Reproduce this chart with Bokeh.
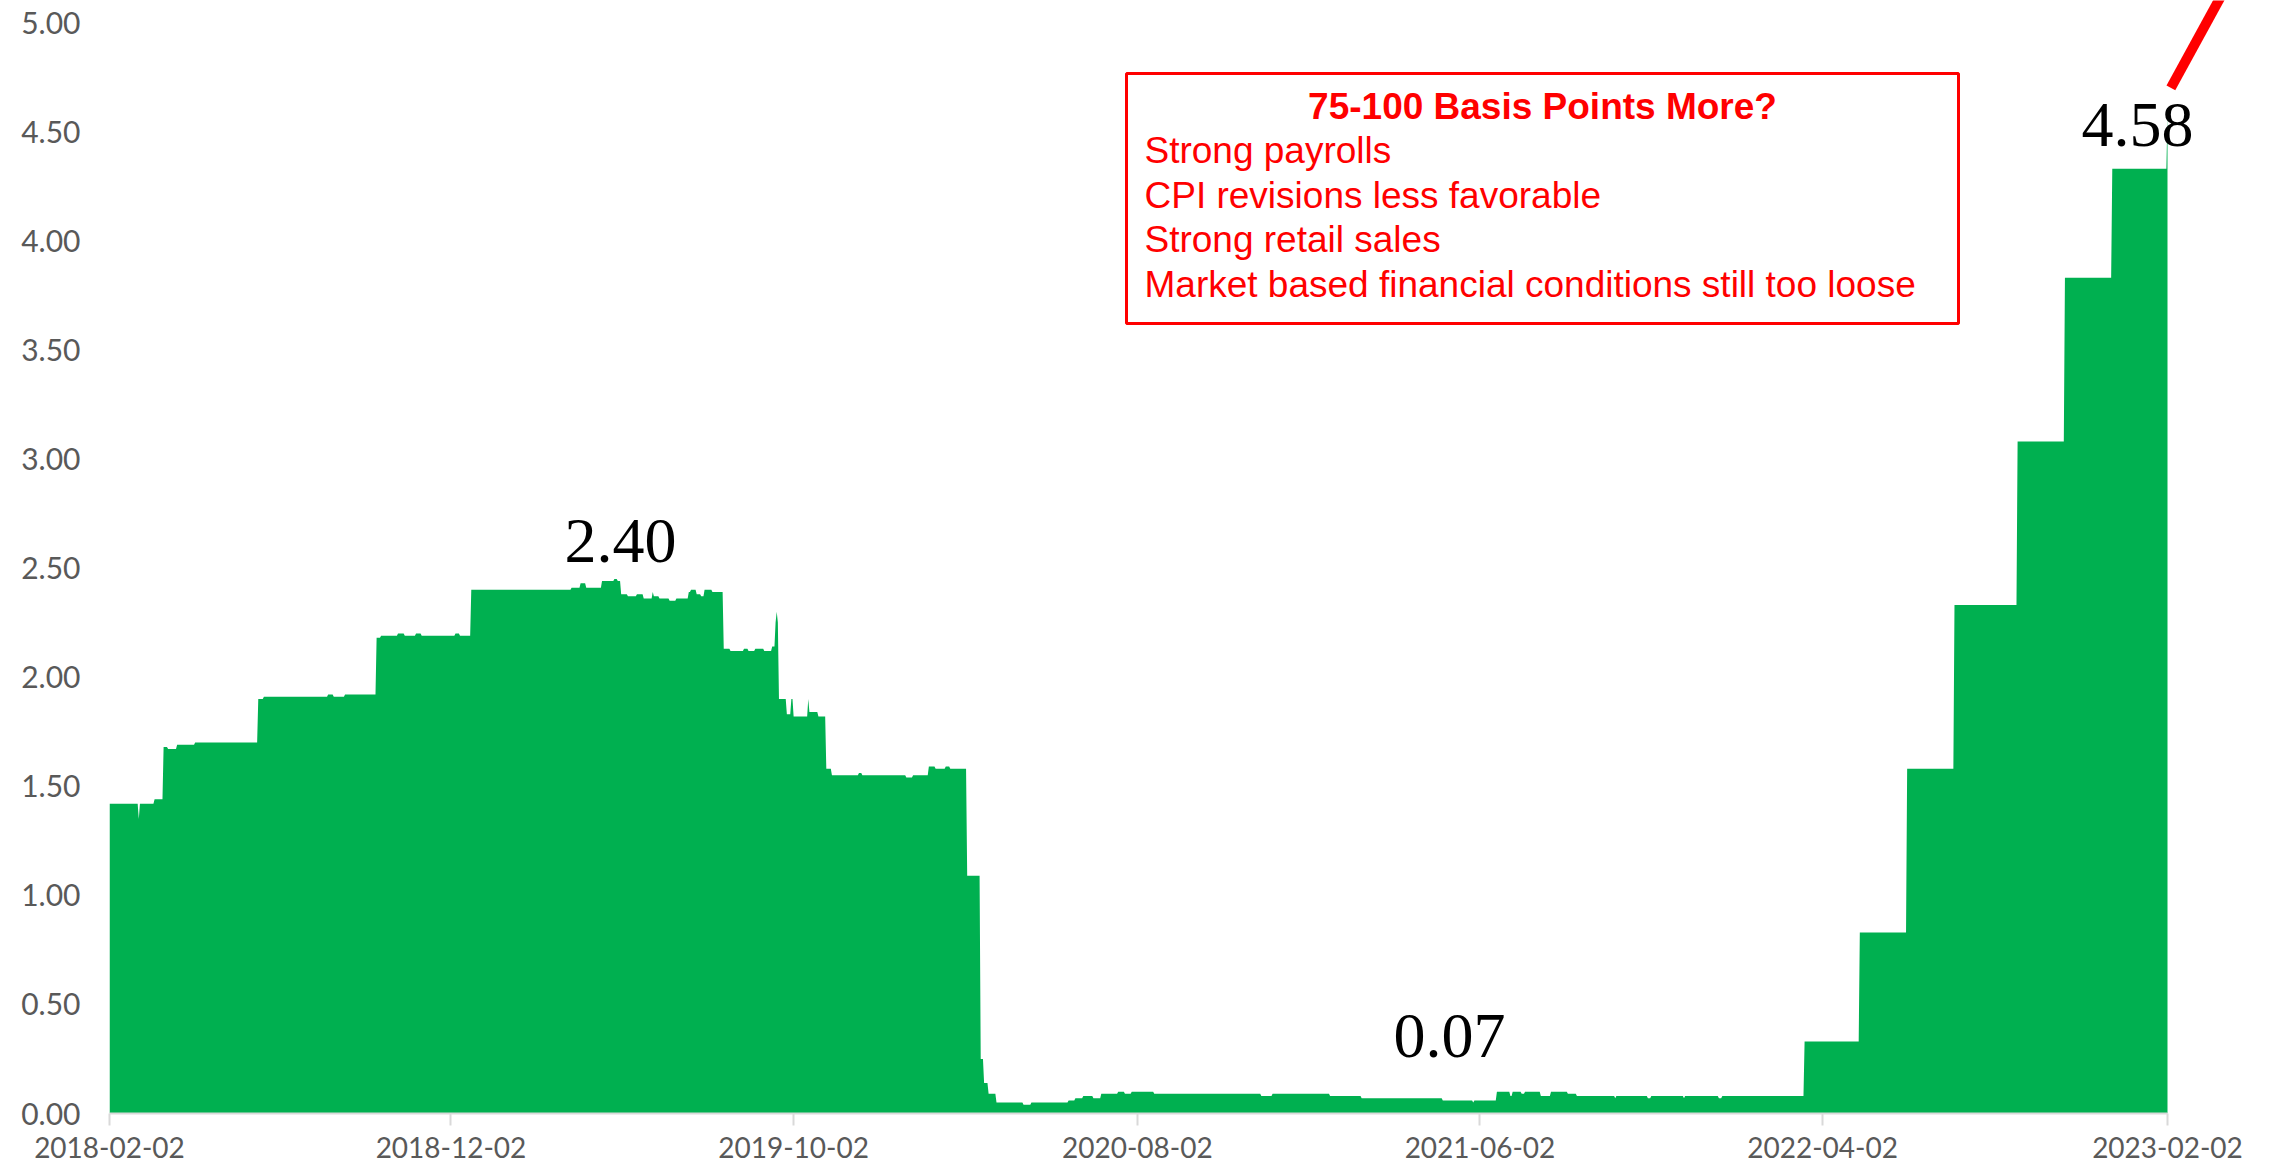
from datetime import datetime
from bokeh.plotting import figure
from bokeh.models import (Range1d, FixedTicker, DatetimeTickFormatter, NumeralTickFormatter,
                          BoxAnnotation, Label)
from bokeh.embed import file_html
from bokeh.resources import INLINE

# ---------------- data ----------------
dates = [
    "2018-02-02", "2018-02-28", "2018-03-01", "2018-03-14", "2018-03-22", "2018-03-26",
    "2018-04-03", "2018-04-19", "2018-06-14", "2018-06-19", "2018-08-15", "2018-08-20",
    "2018-08-30", "2018-09-27", "2018-10-01", "2018-10-16", "2018-10-22", "2018-11-01",
    "2018-11-06", "2018-12-06", "2018-12-10", "2018-12-20", "2019-03-19", "2019-03-27",
    "2019-04-01", "2019-04-15", "2019-04-26", "2019-04-29", "2019-05-02", "2019-05-08",
    "2019-05-16", "2019-05-22", "2019-05-30", "2019-05-31", "2019-06-05", "2019-06-14",
    "2019-06-20", "2019-07-01", "2019-07-03", "2019-07-08", "2019-07-12", "2019-07-15",
    "2019-07-22", "2019-08-01", "2019-08-07", "2019-08-19", "2019-08-23", "2019-08-29",
    "2019-09-06", "2019-09-13", "2019-09-16", "2019-09-17", "2019-09-18", "2019-09-19",
    "2019-09-26", "2019-09-30", "2019-10-02", "2019-10-15", "2019-10-16", "2019-10-24",
    "2019-10-31", "2019-11-05", "2019-11-29", "2019-12-02", "2020-01-10", "2020-01-16",
    "2020-01-30", "2020-02-05", "2020-02-14", "2020-02-18", "2020-03-04", "2020-03-16",
    "2020-03-19", "2020-03-23", "2020-03-30", "2020-04-23", "2020-04-30", "2020-06-02",
    "2020-06-08", "2020-06-15", "2020-06-24", "2020-07-01", "2020-07-16", "2020-07-22",
    "2020-07-28", "2020-08-17", "2020-11-20", "2020-11-30", "2021-01-20", "2021-02-17",
    "2021-04-30", "2021-05-27", "2021-05-28", "2021-06-17", "2021-06-29", "2021-07-01",
    "2021-07-09", "2021-07-12", "2021-07-26", "2021-08-04", "2021-08-19", "2021-08-27",
    "2021-09-30", "2021-10-01", "2021-10-29", "2021-11-01", "2021-11-30", "2021-12-01",
    "2021-12-31", "2022-01-03", "2022-03-17", "2022-05-05", "2022-06-16", "2022-07-28",
    "2022-09-22", "2022-11-03", "2022-12-15", "2023-02-02",
]
rates = [
    1.42, 1.35, 1.42, 1.44, 1.68, 1.67,
    1.69, 1.70, 1.90, 1.91, 1.92, 1.91,
    1.92, 2.18, 2.19, 2.20, 2.19, 2.20,
    2.19, 2.20, 2.19, 2.40, 2.41, 2.43,
    2.41, 2.44, 2.45, 2.44, 2.38, 2.37,
    2.38, 2.36, 2.39, 2.37, 2.36, 2.35,
    2.36, 2.39, 2.40, 2.38, 2.37, 2.40,
    2.39, 2.13, 2.12, 2.13, 2.12, 2.13,
    2.12, 2.14, 2.25, 2.30, 2.25, 1.90,
    1.83, 1.90, 1.82, 1.90, 1.84, 1.82,
    1.58, 1.55, 1.56, 1.55, 1.54, 1.55,
    1.59, 1.58, 1.59, 1.58, 1.09, 0.25,
    0.14, 0.09, 0.05, 0.04, 0.05, 0.06,
    0.07, 0.08, 0.07, 0.09, 0.10, 0.09,
    0.10, 0.09, 0.08, 0.09, 0.08, 0.07,
    0.06, 0.05, 0.06, 0.10, 0.08, 0.10,
    0.09, 0.10, 0.08, 0.10, 0.09, 0.08,
    0.07, 0.08, 0.07, 0.08, 0.07, 0.08,
    0.07, 0.08, 0.33, 0.83, 1.58, 2.33,
    3.08, 3.83, 4.33, 4.58,
]

x_tick_labels = ["2018-02-02", "2018-12-02", "2019-10-02", "2020-08-02",
                 "2021-06-02", "2022-04-02", "2023-02-02"]
y_ticks = [0.0, 0.5, 1.0, 1.5, 2.0, 2.5, 3.0, 3.5, 4.0, 4.5, 5.0]

value_labels = ["2.40", "0.07", "4.58"]
box_title = "75-100 Basis Points More?"
box_lines = ["Strong payrolls", "CPI revisions less favorable", "Strong retail sales",
             "Market based financial conditions still too loose"]
projection_dates = ["2023-02-05", "2023-04-01"]
projection_vals = [4.70, 5.22]

# ---------------- helpers ----------------
DAY = 86400000.0
EPOCH = datetime(1970, 1, 1)


def ms(s):
    return (datetime.strptime(s, "%Y-%m-%d") - EPOCH).total_seconds() * 1000.0


W, H = 2272, 1162
L, B = 109, 1113           # frame left / bottom in pixels
X0_PX, X1_PX = 109, 2167   # pixel positions of first / last tick
t0, t1 = ms(x_tick_labels[0]), ms(x_tick_labels[-1])
ms_per_px = (t1 - t0) / (X1_PX - X0_PX)
px_per_unit = (B - 22) / 5.0


def px_x(px):
    return t0 + (px - X0_PX) * ms_per_px


def px_y(py):
    return (B - py) / px_per_unit


# step-area vertices built from the change points
xs, ys = [], []
for i, (d, v) in enumerate(zip(dates, rates)):
    t = ms(d)
    if i > 0:
        xs.append(t - DAY)
        ys.append(rates[i - 1])
    xs.append(t)
    ys.append(v)

# ---------------- figure ----------------
p = figure(width=W, height=H, x_axis_type="datetime", output_backend="svg",
           toolbar_location=None, x_range=Range1d(t0, px_x(W)), y_range=Range1d(0, px_y(0)),
           min_border_left=L, min_border_right=0, min_border_top=0, min_border_bottom=H - B)
p.outline_line_color = None
p.xgrid.visible = False
p.ygrid.visible = False
p.background_fill_color = "white"
p.border_fill_color = "white"

p.varea(x=xs, y1=0, y2=ys, fill_color="#00B050")

p.line(x=[ms(d) for d in projection_dates], y=projection_vals, line_color="#FF0000",
       line_width=10)

# axes
xa = p.xaxis[0]
xa.ticker = FixedTicker(ticks=[ms(d) for d in x_tick_labels])
fmt = "%Y-%m-%d"
xa.formatter = DatetimeTickFormatter(milliseconds=fmt, seconds=fmt, minsec=fmt, minutes=fmt,
                                     hourmin=fmt, hours=fmt, days=fmt, months=fmt, years=fmt)
xa.bounds = (t0, t1)
xa.axis_line_color = "#D9D9D9"
xa.axis_line_width = 2
xa.major_tick_line_color = "#D9D9D9"
xa.major_tick_line_width = 2
xa.major_tick_in = 0
xa.major_tick_out = 12
xa.minor_tick_line_color = None
xa.major_label_standoff = 11
xa.major_label_text_font = "Lato"
xa.major_label_text_font_size = "28px"
xa.major_label_text_color = "#595959"

ya = p.yaxis[0]
ya.ticker = FixedTicker(ticks=y_ticks)
ya.formatter = NumeralTickFormatter(format="0.00")
ya.axis_line_color = None
ya.major_tick_line_color = None
ya.minor_tick_line_color = None
ya.major_tick_in = 0
ya.major_tick_out = 0
ya.major_label_standoff = 29
ya.major_label_text_font = "Lato"
ya.major_label_text_font_size = "30px"
ya.major_label_text_color = "#595959"

# value annotations (baselines in pixels, corrected for the renderer's baseline shift)
SERIF = 64
val_pos = [(620, 563), (1449, 1058), (2137, 147)]
for txt, (px, py) in zip(value_labels, val_pos):
    p.add_layout(Label(x=px_x(px), y=px_y(py - 0.35 * SERIF), text=txt,
                       text_font="Liberation Serif", text_font_size=f"{SERIF}px",
                       text_color="black", text_align="center", text_baseline="alphabetic"))

# red box
SANS = 37
p.add_layout(BoxAnnotation(left=px_x(1126), right=px_x(1958), top=px_y(73), bottom=px_y(323),
                           fill_color=None, fill_alpha=0, line_color="#FF0000",
                           line_alpha=1.0, line_width=3))
p.add_layout(Label(x=px_x(1542), y=px_y(119 - 0.35 * SANS), text=box_title,
                   text_font="Liberation Sans", text_font_style="bold",
                   text_font_size=f"{SANS}px", text_color="#FF0000",
                   text_align="center", text_baseline="alphabetic"))
for i, line in enumerate(box_lines):
    p.add_layout(Label(x=px_x(1144), y=px_y(163 + 44.5 * i - 0.35 * SANS), text=line,
                       text_font="Liberation Sans", text_font_size=f"{SANS}px",
                       text_color="#FF0000", text_align="left", text_baseline="alphabetic"))

open("out.html", "w").write(file_html(p, INLINE))
